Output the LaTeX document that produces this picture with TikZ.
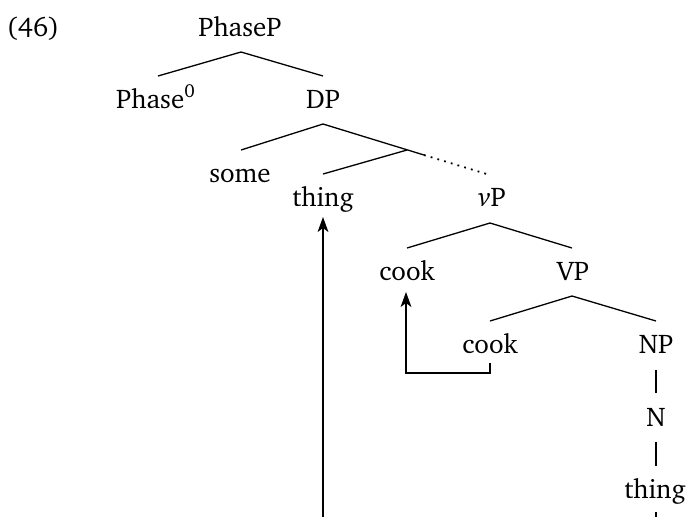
\documentclass[tikz,border=0pt]{standalone}
\usepackage[T1]{fontenc}
\usepackage{charter}
\usetikzlibrary{arrows.meta}
\tikzset{
  lbl/.style={anchor=base, inner sep=0pt, font=\fontsize{13.5}{16}\selectfont},
  br/.style={line width=0.65pt},
  mv/.style={line width=0.65pt, -{Stealth[length=7.5pt,width=5.4pt,inset=2pt]}},
}
\begin{document}
\begin{tikzpicture}[x=0.5pt,y=-0.5pt]
\useasboundingbox (0,0) rectangle (690,516);
\clip (0,0) rectangle (690,516);
\node[lbl] (ex) at (33,36) {(46)};
\node[lbl] (phasep) at (240,36) {PhaseP};
\node[lbl] (phase0) at (156,108) {Phase\textsuperscript{0}};
\node[lbl] (dp) at (323,108) {DP};
\node[lbl] (some) at (240,182) {some};
\node[lbl] (thing1) at (323,206) {thing};
\node[lbl] (vp) at (492,206) {\textit{v}P};
\node[lbl] (cook1) at (407,280) {cook};
\node[lbl] (vpp) at (573,280) {VP};
\node[lbl] (cook2) at (490,353) {cook};
\node[lbl] (np) at (656,353) {NP};
\node[lbl] (n) at (656,426) {N};
\node[lbl] (thing2) at (655,498) {thing};
% coordinates for branch ends
\coordinate (a1) at (241,52);
\coordinate (a1l) at (158,76);
\coordinate (a1r) at (323,76);
\coordinate (a2) at (323,124);
\coordinate (a2l) at (241,150);
\coordinate (b2) at (407,150);
\coordinate (s2) at (424,155);
\coordinate (a2r) at (490,175);
\coordinate (b2l) at (323,174);
\coordinate (a3) at (490,223);
\coordinate (a3l) at (407,248);
\coordinate (a3r) at (572,248);
\coordinate (a4) at (572,296);
\coordinate (a4l) at (490,321);
\coordinate (a4r) at (656,321);
\coordinate (np1) at (656,370);
\coordinate (np2) at (656,393);
\coordinate (n1) at (656,442);
\coordinate (n2) at (656,466);
\coordinate (t1) at (656,512);
\coordinate (t2) at (656,530);
\coordinate (m1) at (490,363);
\coordinate (m2) at (490,373);
\coordinate (m3) at (406,373);
\coordinate (m4) at (406,292);
\coordinate (l1) at (323,530);
\coordinate (l2) at (323,217);
\draw[br] (a1l) -- (a1) -- (a1r);
\draw[br] (a2l) -- (a2) -- (s2);
\draw[br, line width=0.9pt, dash pattern=on 0.9pt off 2.6pt] (s2) -- (a2r);
\draw[br] (b2) -- (b2l);
\draw[br] (a3l) -- (a3) -- (a3r);
\draw[br] (a4l) -- (a4) -- (a4r);
\draw[br] (np1) -- (np2);
\draw[br] (n1) -- (n2);
\draw[br] (t1) -- (t2);
\draw[mv] (m1) -- (m2) -- (m3) -- (m4);
\draw[mv] (l1) -- (l2);
\end{tikzpicture}
\end{document}
